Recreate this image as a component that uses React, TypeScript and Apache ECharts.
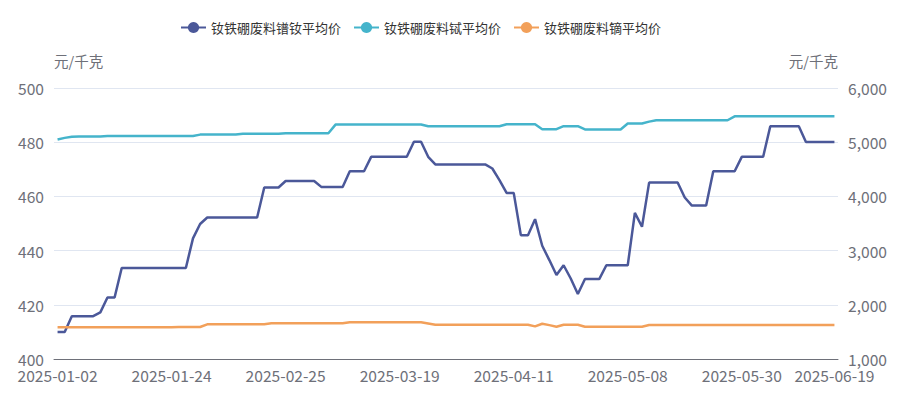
import React, { useEffect, useRef } from "react";
import * as echarts from "echarts";

const dates: string[] = [
  "2025-01-02","2025-01-03","2025-01-06","2025-01-07","2025-01-08","2025-01-09","2025-01-10",
  "2025-01-13","2025-01-14","2025-01-15","2025-01-16","2025-01-17","2025-01-20","2025-01-21",
  "2025-01-22","2025-01-23","2025-01-24","2025-01-27",
  "2025-02-05","2025-02-06","2025-02-07","2025-02-10","2025-02-11","2025-02-12","2025-02-13",
  "2025-02-14","2025-02-17","2025-02-18","2025-02-19","2025-02-20","2025-02-21","2025-02-24",
  "2025-02-25","2025-02-26","2025-02-27","2025-02-28",
  "2025-03-03","2025-03-04","2025-03-05","2025-03-06","2025-03-07","2025-03-10","2025-03-11",
  "2025-03-12","2025-03-13","2025-03-14","2025-03-17","2025-03-18","2025-03-19","2025-03-20",
  "2025-03-21","2025-03-24","2025-03-25","2025-03-26","2025-03-27","2025-03-28","2025-03-31",
  "2025-04-01","2025-04-02","2025-04-03","2025-04-07","2025-04-08","2025-04-09","2025-04-10",
  "2025-04-11","2025-04-14","2025-04-15","2025-04-16","2025-04-17","2025-04-18","2025-04-21",
  "2025-04-22","2025-04-23","2025-04-24","2025-04-25","2025-04-28","2025-04-29","2025-04-30",
  "2025-05-06","2025-05-07","2025-05-08","2025-05-09","2025-05-12","2025-05-13","2025-05-14",
  "2025-05-15","2025-05-16","2025-05-19","2025-05-20","2025-05-21","2025-05-22","2025-05-23",
  "2025-05-26","2025-05-27","2025-05-28","2025-05-29","2025-05-30",
  "2025-06-03","2025-06-04","2025-06-05","2025-06-06","2025-06-09","2025-06-10","2025-06-11",
  "2025-06-12","2025-06-13","2025-06-16","2025-06-17","2025-06-18","2025-06-19",
];

// 钕铁硼废料镨钕平均价 (left axis)
const prNdValues: number[] = [
  410, 410, 415.8, 415.8, 415.8, 415.8, 417.2, 422.7, 422.7,
  433.6, 433.6, 433.6, 433.6, 433.6, 433.6, 433.6, 433.6, 433.6, 433.6,
  444.5, 449.8,
  452.2, 452.2, 452.2, 452.2, 452.2, 452.2, 452.2, 452.2,
  463.3, 463.3, 463.3,
  465.7, 465.7, 465.7, 465.7, 465.7,
  463.5, 463.5, 463.5, 463.5,
  469.3, 469.3, 469.3,
  474.6, 474.6, 474.6, 474.6, 474.6, 474.6,
  480.2, 480.2,
  474.6,
  471.8, 471.8, 471.8, 471.8, 471.8, 471.8, 471.8, 471.8,
  470.3, 466, 461.3, 461.3,
  445.7, 445.7,
  451.6, 441.8, 436.5, 431, 434.6, 429.7, 424,
  429.5, 429.5, 429.5,
  434.6, 434.6, 434.6, 434.6,
  453.9, 448.8,
  465.1, 465.1, 465.1, 465.1, 465.1,
  459.6,
  456.6, 456.6, 456.6,
  469.3, 469.3, 469.3, 469.3,
  474.6, 474.6, 474.6, 474.6,
  485.9, 485.9, 485.9, 485.9, 485.9,
  480.1, 480.1, 480.1, 480.1, 480.1,
];

// 钕铁硼废料铽平均价 (right axis)
const tbValues: number[] = [
  5050, 5080, 5100,
  5105, 5105, 5105, 5105,
  5115, 5115, 5115, 5115, 5115, 5115, 5115, 5115, 5115, 5115, 5115, 5115, 5115,
  5140, 5140, 5140, 5140, 5140, 5140,
  5155, 5155, 5155, 5155, 5155, 5155,
  5165, 5165, 5165, 5165, 5165, 5165, 5165,
  5325, 5325, 5325, 5325, 5325, 5325, 5325, 5325, 5325, 5325, 5325, 5325, 5325,
  5295, 5295, 5295, 5295, 5295, 5295, 5295, 5295, 5295, 5295, 5295,
  5330, 5330, 5330, 5330, 5330,
  5240, 5240, 5240,
  5295, 5295, 5295,
  5235, 5235, 5235, 5235, 5235, 5235,
  5345, 5345, 5345,
  5380,
  5405, 5405, 5405, 5405, 5405, 5405, 5405, 5405, 5405, 5405, 5405,
  5478, 5478, 5478, 5478, 5478, 5478, 5478, 5478, 5478, 5478, 5478, 5478, 5478, 5478, 5478,
];

// 钕铁硼废料镝平均价 (right axis)
const dyValues: number[] = [
  1584, 1584, 1584, 1584, 1584, 1584, 1584, 1584, 1584, 1584, 1584, 1584, 1584, 1584, 1584, 1584, 1584,
  1590, 1590, 1590, 1590,
  1640, 1640, 1640, 1640, 1640, 1640, 1640, 1640, 1640,
  1658, 1658, 1658, 1658, 1658, 1658, 1658, 1658, 1658, 1658, 1658,
  1678, 1678, 1678, 1678, 1678, 1678, 1678, 1678, 1678, 1678, 1678,
  1655,
  1632, 1632, 1632, 1632, 1632, 1632, 1632, 1632, 1632, 1632, 1632, 1632, 1632, 1632,
  1602, 1651, 1625, 1596,
  1632, 1632, 1632,
  1596, 1596, 1596, 1596, 1596, 1596, 1596, 1596, 1596,
  1627, 1627, 1627, 1627, 1627, 1627, 1627, 1627, 1627, 1627, 1627, 1627, 1627, 1627,
  1627, 1627, 1627, 1627, 1627, 1627, 1627, 1627, 1627, 1627, 1627, 1627, 1627,
];

const seriesNames: string[] = ["钕铁硼废料镨钕平均价", "钕铁硼废料铽平均价", "钕铁硼废料镝平均价"];
const unitName = "元/千克";

export default function App() {
  const ref = useRef<HTMLDivElement>(null);
  useEffect(() => {
    if (!ref.current) return;
    const chart = echarts.init(ref.current, undefined, { renderer: "svg" });
    const font = "'Noto Sans CJK SC', 'Noto Sans', sans-serif";
    const labelColor = "#6E7079";
    chart.setOption({
      animation: false,
      color: ["#4B5899", "#45B4CB", "#F2A05A"],
      textStyle: { fontFamily: font },
      legend: {
        top: 16,
        left: 175,
        itemWidth: 25,
        itemHeight: 14,
        itemGap: 12,
        textStyle: { fontSize: 13, color: "#333", fontFamily: font },
        data: seriesNames,
      },
      grid: { left: 54, right: 84, top: 88, bottom: 37 },
      xAxis: {
        type: "category",
        data: dates,
        boundaryGap: true,
        axisTick: { show: false },
        axisLine: { lineStyle: { color: "#6E7079" } },
        axisLabel: {
          interval: 15,
          showMaxLabel: true,
          color: labelColor,
          fontSize: 15.6,
          margin: 8,
          fontFamily: font,
        },
      },
      yAxis: [
        {
          type: "value",
          min: 400,
          max: 500,
          interval: 20,
          name: unitName,
          nameGap: 20,
          nameTextStyle: { color: labelColor, fontSize: 14.5, align: "left", fontFamily: font },
          axisLabel: { color: labelColor, fontSize: 15.6, margin: 10, fontFamily: font },
          splitLine: { lineStyle: { color: "#E0E6F1" } },
        },
        {
          type: "value",
          min: 1000,
          max: 6000,
          interval: 1000,
          name: unitName,
          nameGap: 20,
          nameTextStyle: { color: labelColor, fontSize: 14.5, align: "right", fontFamily: font },
          axisLabel: { color: labelColor, fontSize: 15.6, margin: 10, fontFamily: font },
          splitLine: { lineStyle: { color: "#E0E6F1" } },
        },
      ],
      series: [
        {
          name: seriesNames[0],
          type: "line",
          yAxisIndex: 0,
          data: prNdValues,
          symbol: "circle",
          showSymbol: false,
          lineStyle: { width: 2.5 },
        },
        {
          name: seriesNames[1],
          type: "line",
          yAxisIndex: 1,
          data: tbValues,
          symbol: "circle",
          showSymbol: false,
          lineStyle: { width: 2.5 },
        },
        {
          name: seriesNames[2],
          type: "line",
          yAxisIndex: 1,
          data: dyValues,
          symbol: "circle",
          showSymbol: false,
          lineStyle: { width: 2.5 },
        },
      ],
    });
    return () => chart.dispose();
  }, []);
  return (
    <div
      ref={ref}
      style={{ position: "absolute", left: 0, top: 0, width: 922, height: 396 }}
    />
  );
}
